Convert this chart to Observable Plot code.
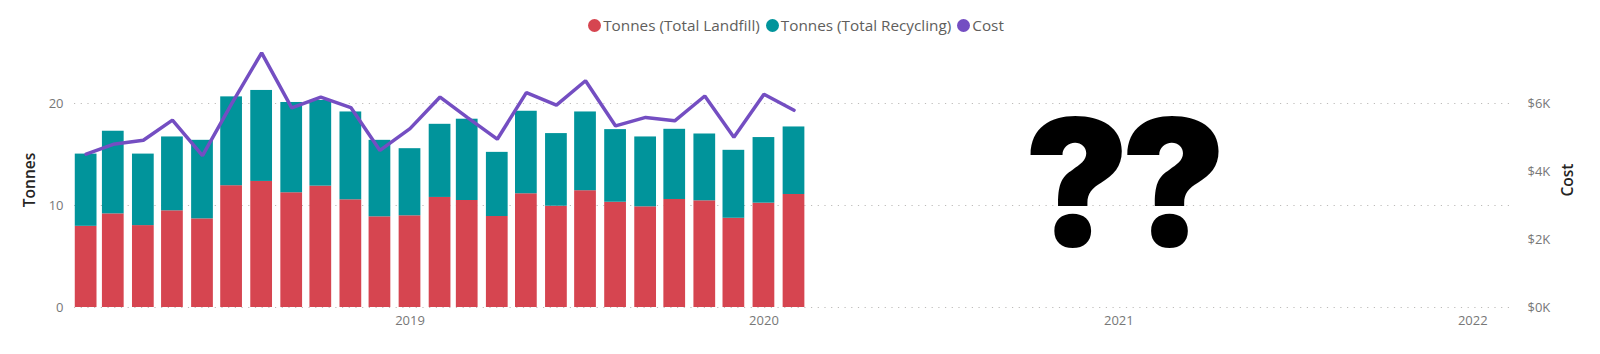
<!DOCTYPE html>
<html>
<head>
<meta charset="utf-8">
<script src="https://cdn.jsdelivr.net/npm/d3@7"></script>
<script src="https://cdn.jsdelivr.net/npm/@observablehq/plot@0.6"></script>
<style>
  html, body { margin: 0; padding: 0; background: #fff; }
  body { width: 1600px; height: 354px; overflow: hidden; font-family: "Open Sans", "Noto Sans", sans-serif; }
  #legend { height: 40px; box-sizing: border-box; padding-top: 15px; padding-right: 8px; display: flex; justify-content: center; align-items: flex-start; gap: 6px; font-size: 15.3px; color: #605E5C; line-height: 20px; }
  #legend .item { display: flex; align-items: center; gap: 2px; }
  #legend .dot { width: 13px; height: 13px; border-radius: 50%; display: inline-block; }
  #chart svg { display: block; }
</style>
</head>
<body>
<div id="legend"></div>
<div id="chart"></div>
<script>
// ---- data ----
const months = [
  "2018-02-01","2018-03-01","2018-04-01","2018-05-01","2018-06-01","2018-07-01",
  "2018-08-01","2018-09-01","2018-10-01","2018-11-01","2018-12-01","2019-01-01",
  "2019-02-01","2019-03-01","2019-04-01","2019-05-01","2019-06-01","2019-07-01",
  "2019-08-01","2019-09-01","2019-10-01","2019-11-01","2019-12-01","2020-01-01",
  "2020-02-01"
];
const landfill = [7.96, 9.18, 8.03, 9.48, 8.69, 11.94, 12.36, 11.25, 11.90, 10.56, 8.89, 8.99,
  10.79, 10.49, 8.92, 11.15, 9.93, 11.45, 10.32, 9.87, 10.59, 10.46, 8.75, 10.23, 11.08];
const recycling = [7.08, 8.10, 7.01, 7.24, 7.70, 8.71, 8.92, 8.85, 8.40, 8.61, 7.50, 6.58,
  7.17, 7.97, 6.29, 8.09, 7.12, 7.72, 7.12, 6.85, 6.88, 6.55, 6.66, 6.43, 6.62];
const cost = [4510, 4800, 4920, 5510, 4470, 5990, 7490, 5870, 6190, 5880, 4620, 5260,
  6190, 5590, 4950, 6320, 5950, 6670, 5340, 5590, 5490, 6220, 5010, 6270, 5800];

const seriesNames = ["Tonnes (Total Landfill)", "Tonnes (Total Recycling)", "Cost"];
const seriesColors = ["#D64550", "#01949B", "#744EC2"];

const tonnesTicks = [0, 10, 20];
const costTicks = [0, 2000, 4000, 6000];
const yearTicks = ["2019-01-01", "2020-01-01", "2021-01-01", "2022-01-01"];
const xDomain = ["2018-01-20", "2022-02-12"];
const tonnesDomain = [0, 25];
const costDomain = [0, 7500];
const annotation = [{date: "2021-01-03", y: 11.6, label: "??"}];

// ---- build ----
const data = months.map((m, i) => ({
  date: new Date(m), landfill: landfill[i], recycling: recycling[i], cost: cost[i]
}));
const costToY = d3.scaleLinear().domain(costDomain).range(tonnesDomain);
const half = d => 269; // half bar width, hours

const legend = document.getElementById("legend");
seriesNames.forEach((n, i) => {
  const it = document.createElement("span");
  it.className = "item";
  it.innerHTML = `<span class="dot" style="background:${seriesColors[i]}"></span><span>${n}</span>`;
  legend.appendChild(it);
});

const chart = Plot.plot({
  width: 1600,
  height: 314,
  marginTop: 12,
  marginBottom: 47,
  marginLeft: 74,
  marginRight: 87,
  style: {fontFamily: "'Open Sans', 'Noto Sans', sans-serif", fontSize: "13px", color: "#777"},
  x: {type: "utc", domain: xDomain.map(d => new Date(d)), axis: null},
  y: {domain: tonnesDomain, axis: null},
  marks: [
    Plot.gridY(tonnesTicks, {stroke: "#bdbbb9", strokeOpacity: 1, strokeDasharray: "1.2,5.5"}),
    Plot.rectY(data, {
      x1: d => d3.utcHour.offset(d.date, -half(d)),
      x2: d => d3.utcHour.offset(d.date, half(d)),
      y1: 0, y2: "landfill", fill: seriesColors[0]
    }),
    Plot.rectY(data, {
      x1: d => d3.utcHour.offset(d.date, -half(d)),
      x2: d => d3.utcHour.offset(d.date, half(d)),
      y1: "landfill", y2: d => d.landfill + d.recycling, fill: seriesColors[1]
    }),
    Plot.line(data, {x: "date", y: d => costToY(d.cost), stroke: seriesColors[2], strokeWidth: 3.5, strokeLinejoin: "miter"}),
    Plot.axisY({anchor: "left", ticks: tonnesTicks, tickSize: 0, tickPadding: 11, fill: "#777",
      label: "Tonnes", labelAnchor: "center", labelArrow: "none", labelOffset: 51}),
    Plot.axisY({anchor: "right", ticks: costTicks.map(costToY), tickSize: 0, tickPadding: 14, fill: "#777",
      tickFormat: v => "$" + Math.round(costToY.invert(v) / 1000) + "K",
      label: "Cost", labelAnchor: "center", labelArrow: "none", labelOffset: 59}),
    Plot.axisX({ticks: yearTicks.map(d => new Date(d)), tickSize: 0, tickPadding: 8, fill: "#777",
      tickFormat: d3.utcFormat("%Y"), label: null}),
    Plot.text(annotation, {x: d => new Date(d.date), y: "y", text: "label", fontSize: 176,
      fontWeight: 900, fontFamily: "Inter", fill: "#000"})
  ]
});
document.getElementById("chart").appendChild(chart);
// style axis titles darker & bold
chart.querySelectorAll("g[aria-label='y-axis label'] text, g[aria-label='y-axis label']").forEach(el => {
  el.setAttribute("fill", "#252423");
  el.setAttribute("font-weight", "600");
  el.setAttribute("font-size", "15.5");
});
chart.querySelectorAll("text").forEach(el => {
  if (el.textContent === "??") el.style.letterSpacing = "-9px";
});
</script>
</body>
</html>
